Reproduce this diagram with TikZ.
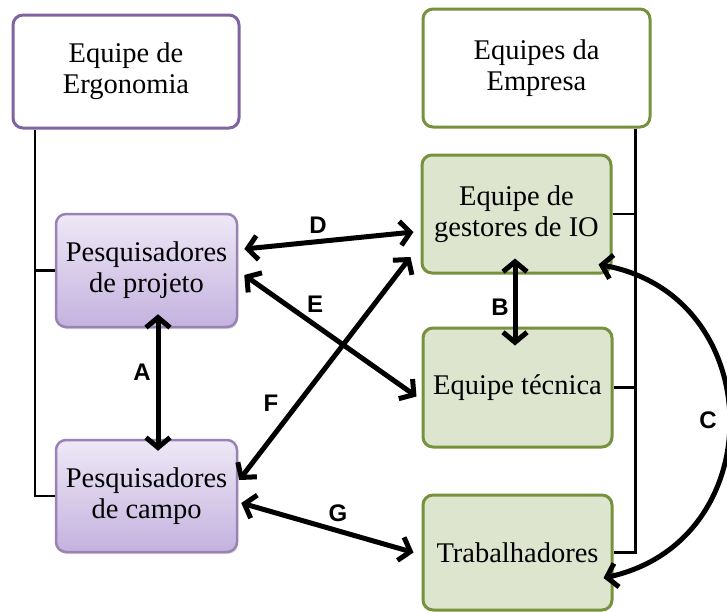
\documentclass[tikz,border=0pt]{standalone}
\usepackage{fontspec}
\setmainfont{Liberation Serif}
\newfontfamily\letterfont{Liberation Sans}
\usetikzlibrary{arrows.meta,shadows}
\definecolor{ergoline}{HTML}{8064A2}
\definecolor{ergotop}{HTML}{EEE8F6}
\definecolor{ergobottom}{HTML}{C4B2DF}
\definecolor{firmline}{HTML}{76923C}
\definecolor{firmfill}{HTML}{DEE5CF}
\tikzset{ %inner sep = 0.5mm,
  >={Straight Barb[length=10pt,width=24pt]},
  {group box/.style} ={rectangle, rounded corners=10pt, line width=3pt,
                fill=white, align=center, font=\fontsize{28.5}{31}\selectfont},
  {ergo group/.style} ={group box, draw=ergoline},
  {firm group/.style} ={group box, draw=firmline},
  {ergo box/.style} ={group box, line width=2.5pt, draw=ergoline!80, top color=ergotop,
                bottom color=ergobottom,
                drop shadow={opacity=.3, shadow xshift=1pt, shadow yshift=-2pt}},
  {firm box/.style} ={group box, draw=firmline, fill=firmfill},
  {link/.style} ={line width=2.5pt},
  {relation/.style} ={<->, line width=5pt},
  {letter/.style} ={font=\letterfont\bfseries\fontsize{24}{24}\selectfont},
 }
\begin{document}
\begin{tikzpicture}[x=1pt,y=-1pt]
\useasboundingbox (0,0) rectangle (727,611);
% groups
\node[ergo group, minimum width=226, minimum height=113] (ergo) at (126,71.5) {Equipe de\\Ergonomia};
\node[firm group, minimum width=227, minimum height=118] (empresa) at (536.5,68) {Equipes da\\Empresa};
% members
\node[ergo box, minimum width=181, minimum height=113] (projeto) at (146.5,270.5) {Pesquisadores\\de projeto};
\node[ergo box, minimum width=181, minimum height=112] (campo) at (146.5,496) {Pesquisadores\\de campo};
\node[firm box, minimum width=189, minimum height=118] (gestores) at (516.5,214) {Equipe de\\gestores de IO};
\node[firm box, minimum width=189, minimum height=119] (tecnica) at (517.5,387.5) {Equipe t\'ecnica};
\node[firm box, minimum width=189, minimum height=115] (trab) at (517.5,552.5) {Trabalhadores};
% trunks
\coordinate (ergo trunk) at ([xshift=23.5pt]ergo.south west);
\coordinate (firm trunk) at ([xshift=-16pt]empresa.south east);
\draw[link] (ergo trunk) |- (campo.west);
\draw[link] (projeto.west) -- (projeto.west -| ergo trunk);
\draw[link] (firm trunk) |- (trab.east);
\draw[link] (gestores.east) -- (gestores.east -| firm trunk);
\draw[link] (tecnica.east) -- (tecnica.east -| firm trunk);
% relations
\path[relation] ([shift={(11.5,-14)}]projeto.south) edge ([shift={(11.5,12)}]campo.north)
                ([shift={(-1.5,-16)}]gestores.south) edge ([shift={(-2.5,19)}]tecnica.north)
                ([shift={(6,-21.5)}]projeto.east) edge ([shift={(-7,18)}]gestores.west)
                ([shift={(6,4.5)}]projeto.east) edge ([shift={(-5,9)}]tecnica.west)
                ([shift={(1,-16)}]campo.east) edge ([shift={(-10,43)}]gestores.west)
                ([shift={(3,7)}]campo.east) edge ([shift={(-8,0)}]trab.west);
\draw[relation] ([shift={(-14,-10)}]gestores.south east)
      .. controls (769,295) and (773,541) .. ([shift={(-10,25.5)}]trab.east);
% labels
\node[letter] (labelA) at (142,372) {A};
\node[letter] (labelB) at (500,307) {B};
\node[letter] (labelC) at (708,420) {C};
\node[letter] (labelD) at (318,225) {D};
\node[letter] (labelE) at (315,304) {E};
\node[letter] (labelF) at (271,403) {F};
\node[letter] (labelG) at (338,513) {G};
\end{tikzpicture}
\end{document}
